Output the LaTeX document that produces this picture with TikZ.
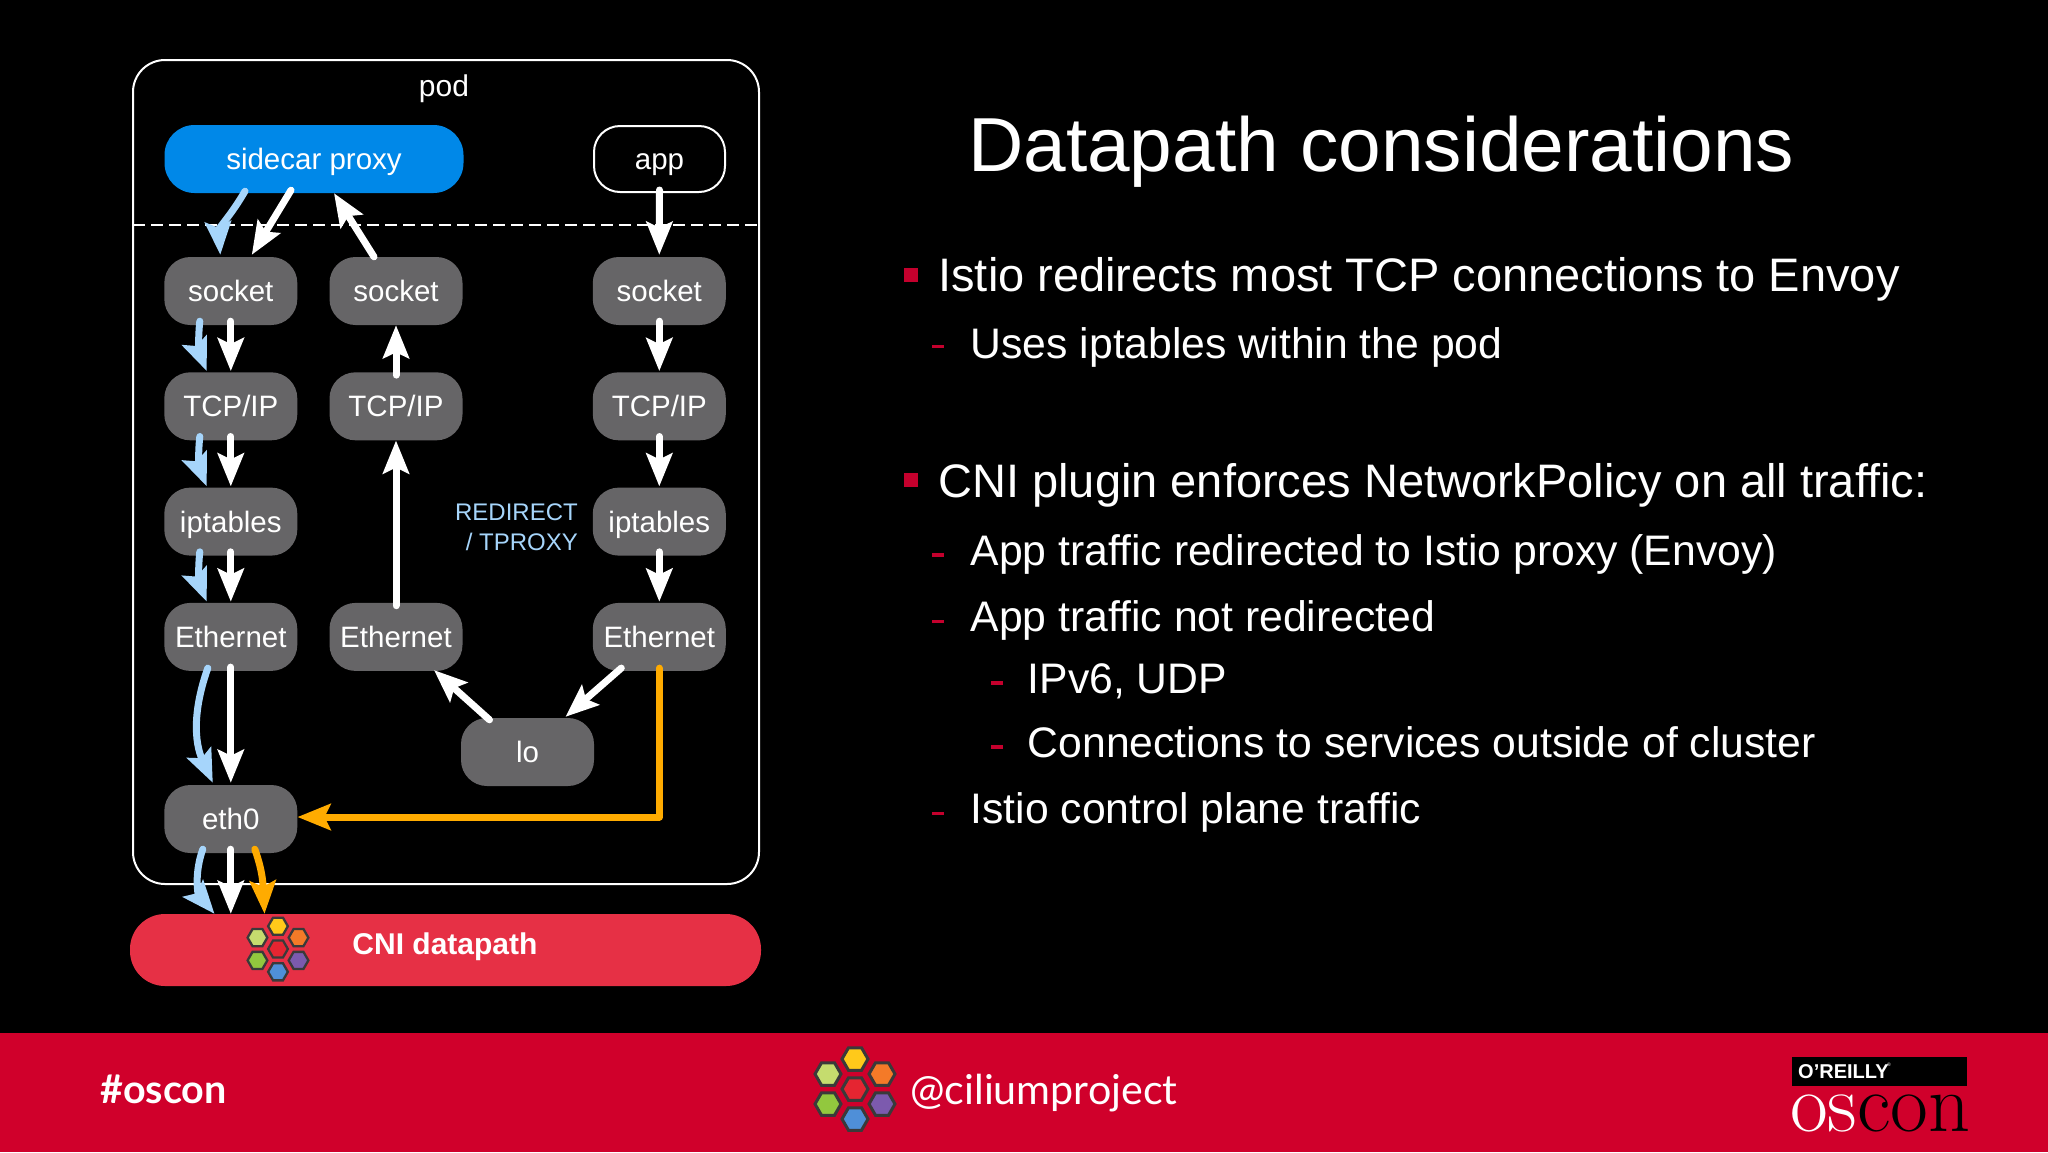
\documentclass[tikz,border=0pt]{standalone}
\usepackage{fontspec}
\usetikzlibrary{positioning,arrows.meta,shapes.geometric}
\newfontfamily\slidefont{Liberation Sans}
\newfontfamily\footfont{Lato}
\definecolor{boxgray}{HTML}{666567}
\definecolor{proxyblue}{HTML}{0088E8}
\definecolor{flowblue}{HTML}{A6D5FB}
\definecolor{floworange}{HTML}{FFAB00}
\definecolor{cnired}{HTML}{E63045}
\definecolor{barred}{HTML}{D0002B}
\definecolor{markred}{HTML}{C4002D}
\definecolor{hexedge}{HTML}{3A3A3A}
\tikzset{
  stackbox/.style={fill=boxgray,text=white,rounded corners=26pt,minimum width=133pt,minimum height=68pt,inner sep=0pt,text height=21pt,text depth=0pt,font=\slidefont\fontsize{29.5}{30}\selectfont},
  wide flow/.style={line width=7pt,line cap=round,-{Stealth[length=33pt,width=26pt,inset=6pt]}},
  whiteflow/.style={wide flow,white},
  blueflow/.style={wide flow,flowblue},
  orangeflow/.style={wide flow,floworange,line join=round},
  headline/.style={anchor=base west,inner sep=0pt,text=white,font=\slidefont\fontsize{76.6}{76}\selectfont},
  itemone/.style={anchor=base west,inner sep=0pt,text=white,font=\slidefont\fontsize{47}{47}\selectfont},
  itemtwo/.style={anchor=base west,inner sep=0pt,text=white,font=\slidefont\fontsize{42.7}{42}\selectfont},
  squaremark/.style={fill=markred,minimum size=14pt,inner sep=0pt},
  dashmark/.style={fill=markred,minimum width=12pt,minimum height=3.5pt,inner sep=0pt},
  hexcell/.style={regular polygon,regular polygon sides=6,draw=hexedge,minimum size=26pt,inner sep=0pt,transform shape},
  pics/hexlogo/.style={code={
    \node[hexcell,fill={rgb,255:red,229;green,37;blue,49}] (-r) at (0,0) {};
    \node[hexcell,fill={rgb,255:red,255;green,201;blue,26}] (-y) at (0,-30) {};
    \node[hexcell,fill={rgb,255:red,197;green,220;blue,110}] (-g) at (-27,-15) {};
    \node[hexcell,fill={rgb,255:red,244;green,122;blue,40}] (-o) at (27,-15) {};
    \node[hexcell,fill={rgb,255:red,146;green,200;blue,62}] (-l) at (-27,15) {};
    \node[hexcell,fill={rgb,255:red,124;green,90;blue,174}] (-p) at (27,15) {};
    \node[hexcell,fill={rgb,255:red,79;green,143;blue,216}] (-b) at (0,30) {};
  }}
}
\begin{document}
\begin{tikzpicture}[x=1pt,y=-1pt,node distance=115.3pt]
\useasboundingbox (0,0) rectangle (2048,1152);
\fill[black] (0,0) rectangle (2048,1152);
\fill[barred] (0,1033) rectangle (2048,1152);

% pod and what sits in it
\node[draw=white,line width=2pt,rounded corners=32pt,minimum width=626pt,minimum height=824pt,inner sep=0pt] (pod) at (446,472) {};
\node[text=white,text height=21pt,text depth=1pt,inner sep=0pt,font=\slidefont\fontsize{30}{30}\selectfont] (podname) at (444,86) {pod};
\coordinate (cutL) at (133,225);
\coordinate (cutR) at (759,225);
\draw[white,line width=2pt,dash pattern=on 12pt off 6pt] (cutL) -- (cutR);

\node[stackbox,fill=proxyblue,rounded corners=30pt,minimum width=299pt] (proxy) at (314,159) {sidecar proxy};
\node[stackbox,fill=black,draw=white,line width=2pt,minimum width=131pt,minimum height=66pt] (app) at (659.5,159) {app};

\node[stackbox] (sock1) at (230.8,291) {socket};
\node[stackbox,below of=sock1] (tcp1) {TCP/IP};
\node[stackbox,below of=tcp1] (ipt1) {iptables};
\node[stackbox,below of=ipt1] (ether1) {Ethernet};
\node[stackbox] (eth0) at (230.8,819) {eth0};

\node[stackbox] (sock2) at (396,291) {socket};
\node[stackbox,below of=sock2] (tcp2) {TCP/IP};
\node[stackbox,below of=tcp2,yshift=-115.3pt] (ether2) {Ethernet};

\node[stackbox] (sock3) at (659.3,291) {socket};
\node[stackbox,below of=sock3] (tcp3) {TCP/IP};
\node[stackbox,below of=tcp3] (ipt3) {iptables};
\node[stackbox,below of=ipt3] (ether3) {Ethernet};

\node[stackbox] (lo) at (527.5,752) {lo};
\node[anchor=east,align=right,inner sep=0pt,text=flowblue,font=\slidefont\fontsize{24}{30}\selectfont] (redirect) at (578,527.5) {REDIRECT\\/ TPROXY};

\node[fill=cnired,rounded corners=35pt,minimum width=631pt,minimum height=72pt,inner sep=0pt] (cni) at (445.5,950) {};
\node[text=white,text height=21pt,text depth=1pt,inner sep=0pt,font=\slidefont\bfseries\fontsize{30}{30}\selectfont] (cnitext) at (445,944) {CNI datapath};
\pic[line width=2.3pt,scale=.76] (small) at (278,949) {hexlogo};

% redirected path
\draw[blueflow] ([xshift=-69pt,yshift=2pt]proxy.south) to[out=-120,in=94] ([xshift=-10.5pt,yshift=2pt]sock1.north);
\draw[blueflow] ([xshift=-31pt,yshift=4pt]sock1.south) to[bend right=14] ([xshift=-24pt,yshift=1pt]tcp1.north);
\draw[blueflow] ([xshift=-31pt,yshift=4pt]tcp1.south) to[bend right=14] ([xshift=-24pt,yshift=1pt]ipt1.north);
\draw[blueflow] ([xshift=-31pt,yshift=4pt]ipt1.south) to[bend right=14] ([xshift=-24pt,yshift=1pt]ether1.north);
\draw[blueflow] ([xshift=-23pt,yshift=3pt]ether1.south) to[bend right=22] ([xshift=-18pt,yshift=2pt]eth0.north);
\draw[blueflow] ([xshift=-28pt,yshift=4pt]eth0.south) to[bend right=30] ([xshift=-231pt,yshift=0pt]cni.north);

% plain path
\draw[whiteflow] ([xshift=-23pt,yshift=3pt]proxy.south) -- ([xshift=21pt,yshift=2pt]sock1.north);
\draw[whiteflow] ([yshift=4pt]sock1.south) -- ([yshift=1pt]tcp1.north);
\draw[whiteflow] ([yshift=4pt]tcp1.south) -- ([yshift=1pt]ipt1.north);
\draw[whiteflow] ([yshift=4pt]ipt1.south) -- ([yshift=1pt]ether1.north);
\draw[whiteflow] ([yshift=4pt]ether1.south) -- ([yshift=2pt]eth0.north);
\draw[whiteflow] ([yshift=4pt]eth0.south) -- ([xshift=-214.7pt]cni.north);

\draw[whiteflow] ([xshift=-22pt]sock2.north) -- ([xshift=20pt]proxy.south);
\draw[whiteflow] ([yshift=-3pt]tcp2.north) -- (sock2.south);
\draw[whiteflow] ([yshift=-3pt]ether2.north) -- (tcp2.south);
\draw[whiteflow] ([xshift=-38pt,yshift=-2pt]lo.north) -- ([xshift=38pt,yshift=1pt]ether2.south);

\draw[whiteflow] ([yshift=3pt]app.south) -- ([yshift=2pt]sock3.north);
\draw[whiteflow] ([yshift=4pt]sock3.south) -- ([yshift=1pt]tcp3.north);
\draw[whiteflow] ([yshift=4pt]tcp3.south) -- ([yshift=1pt]ipt3.north);
\draw[whiteflow] ([yshift=4pt]ipt3.south) -- ([yshift=1pt]ether3.north);
\draw[whiteflow] ([xshift=-38pt,yshift=3pt]ether3.south) -- ([xshift=38pt,yshift=1pt]lo.north);

\draw[orangeflow] ([yshift=3pt]ether3.south) |- ([yshift=2pt]eth0.east);
\draw[orangeflow] ([xshift=24pt,yshift=4pt]eth0.south) to[out=-70,in=93] ([xshift=-181pt]cni.north);

% slide text
\node[headline] (title) at (968,171.5) {Datapath considerations};

\node[squaremark] (mark1) at (910.5,274.5) {};
\node[itemone] (line1) at (938.2,291) {Istio redirects most TCP connections to Envoy};
\node[dashmark] (mark2) at (938,346.7) {};
\node[itemtwo] (line2) at (970.5,358.3) {Uses iptables within the pod};
\node[squaremark] (mark3) at (910.5,479.7) {};
\node[itemone] (line3) at (938.2,497) {CNI plugin enforces NetworkPolicy on all traffic:};
\node[dashmark] (mark4) at (938,555) {};
\node[itemtwo] (line4) at (970.5,565.5) {App traffic redirected to Istio proxy (Envoy)};
\node[dashmark] (mark5) at (938,621.5) {};
\node[itemtwo] (line5) at (970.5,631) {App traffic not redirected};
\node[dashmark] (mark6) at (996.5,683) {};
\node[itemtwo] (line6) at (1027.5,693.5) {IPv6, UDP};
\node[dashmark] (mark7) at (996.5,747) {};
\node[itemtwo] (line7) at (1027.5,757.5) {Connections to services outside of cluster};
\node[dashmark] (mark8) at (938,813.5) {};
\node[itemtwo] (line8) at (970.5,823) {Istio control plane traffic};

% footer
\node[anchor=base west,inner sep=0pt,text=white,font=\footfont\bfseries\fontsize{39.5}{39}\selectfont] (tag) at (100,1103) {\#oscon};
\pic[line width=3pt] (big) at (855,1089) {hexlogo};
\node[anchor=base west,inner sep=0pt,text=white,font=\footfont\fontsize{41.2}{41}\selectfont] (handle) at (910,1104) {@ciliumproject};
\node[fill=black,minimum width=175pt,minimum height=29pt,inner sep=0pt] (oreilly) at (1879.5,1071.5) {};
\node[anchor=west,inner sep=0pt,text=white,font=\slidefont\bfseries\fontsize{20}{20}\selectfont] (oreillytext) at (1798,1072) {O’REILLY};
\node[anchor=base west,inner sep=0pt,text=white,font=\slidefont\fontsize{5}{5}\selectfont] (oreillymark) at (1887,1066) {®};
\node[anchor=base west,inner sep=0pt,font=\fontsize{83}{83}\selectfont] (oscon) at (1790,1131) {\scalebox{.99}[1]{\textcolor{white}{os}\textcolor{black}{con}}};
\end{tikzpicture}
\end{document}
